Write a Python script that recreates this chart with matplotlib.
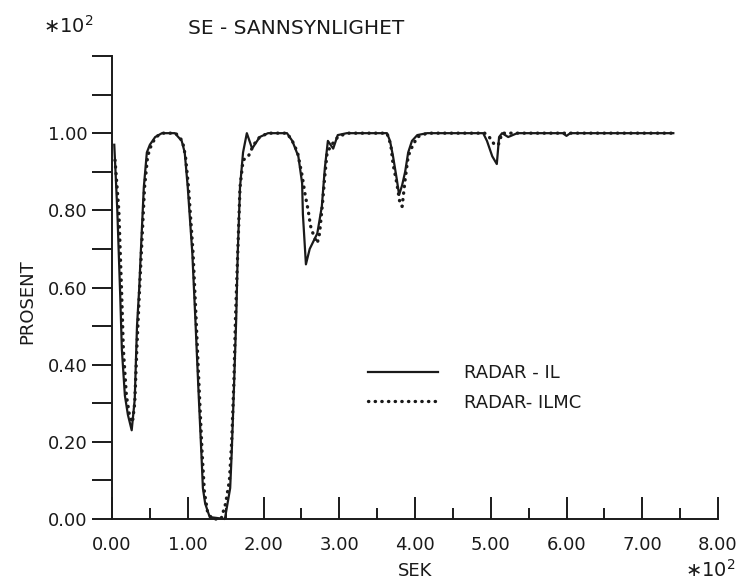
import matplotlib
matplotlib.use("Agg")
import matplotlib.pyplot as plt
from matplotlib.ticker import MultipleLocator, FixedLocator

plt.rcParams['font.family'] = ['DejaVu Sans']

# ---- data (x in units of 10^2 s, y in units of 10^2 %) ----
il_x = [0.03, 0.07, 0.11, 0.13, 0.17, 0.21, 0.26, 0.30, 0.33, 0.36, 0.38, 0.42, 0.46, 0.50,
        0.57, 0.66, 0.83, 0.92, 0.96, 1.00, 1.06, 1.10, 1.14, 1.18, 1.20, 1.23, 1.29, 1.49,
        1.56, 1.58, 1.61, 1.64, 1.66, 1.69, 1.73, 1.78, 1.85, 1.95, 2.06, 2.31, 2.38, 2.46,
        2.51, 2.52, 2.56, 2.61, 2.71, 2.77, 2.81, 2.85, 2.92, 2.98, 3.10, 3.63, 3.67, 3.71,
        3.76, 3.79, 3.83, 3.87, 3.91, 3.96, 4.03, 4.16, 4.90, 4.95, 5.02, 5.08, 5.11, 5.15,
        5.23, 5.35, 5.95, 6.00, 6.05, 7.41]
il_y = [0.97, 0.80, 0.57, 0.44, 0.32, 0.27, 0.23, 0.31, 0.50, 0.60, 0.69, 0.86, 0.95, 0.97,
        0.99, 1.00, 1.00, 0.98, 0.95, 0.86, 0.69, 0.52, 0.34, 0.17, 0.08, 0.04, 0.005, 0.0,
        0.08, 0.17, 0.34, 0.52, 0.69, 0.86, 0.95, 1.00, 0.96, 0.99, 1.00, 1.00, 0.98, 0.94,
        0.87, 0.79, 0.66, 0.70, 0.74, 0.81, 0.91, 0.98, 0.96, 0.995, 1.00, 1.00, 0.98, 0.94,
        0.88, 0.84, 0.865, 0.90, 0.95, 0.98, 0.995, 1.00, 1.00, 0.98, 0.94, 0.92, 0.99, 1.00,
        0.99, 1.00, 1.00, 0.993, 1.00, 1.00]

ilmc_x = [0.04, 0.09, 0.13, 0.15, 0.19, 0.23, 0.27, 0.30, 0.33, 0.36, 0.39, 0.43, 0.47, 0.52,
          0.58, 0.66, 0.84, 0.93, 0.97, 1.01, 1.07, 1.11, 1.15, 1.19, 1.22, 1.26, 1.32, 1.44,
          1.50, 1.55, 1.58, 1.61, 1.63, 1.66, 1.69, 1.73, 1.80, 1.87, 1.95, 2.06, 2.31, 2.38,
          2.45, 2.51, 2.55, 2.59, 2.62, 2.67, 2.71, 2.74, 2.78, 2.81, 2.84, 2.90, 2.98, 3.10,
          3.63, 3.68, 3.71, 3.76, 3.80, 3.83, 3.87, 3.91, 3.95, 4.03, 4.16, 4.92, 4.98, 5.05,
          5.10, 5.15, 7.41]
ilmc_y = [0.93, 0.80, 0.57, 0.44, 0.32, 0.27, 0.25, 0.30, 0.45, 0.58, 0.70, 0.86, 0.94, 0.97,
          0.99, 1.00, 1.00, 0.98, 0.94, 0.86, 0.69, 0.52, 0.34, 0.17, 0.07, 0.02, 0.0, 0.0,
          0.04, 0.10, 0.20, 0.36, 0.52, 0.69, 0.86, 0.93, 0.94, 0.97, 0.99, 1.00, 1.00, 0.98,
          0.95, 0.89, 0.84, 0.80, 0.76, 0.73, 0.715, 0.74, 0.82, 0.89, 0.95, 0.97, 0.99, 1.00,
          1.00, 0.97, 0.92, 0.87, 0.82, 0.81, 0.88, 0.94, 0.96, 0.99, 1.00, 1.00, 0.99, 0.97,
          0.97, 1.00, 1.00]

x_major = [0, 1, 2, 3, 4, 5, 6, 7, 8]
x_labels = ['0.00', '1.00', '2.00', '3.00', '4.00', '5.00', '6.00', '7.00', '8.00']
y_major = [0.0, 0.2, 0.4, 0.6, 0.8, 1.0, 1.2]
y_labels = ['0.00', '0.20', '0.40', '0.60', '0.80', '1.00', '']

FS = 13
INK = '#1a1a1a'
W, H = 738, 582
fig = plt.figure(figsize=(W / 100, H / 100), dpi=100)
ax = fig.add_axes([112 / W, 1 - 519 / H, (718 - 112) / W, (519 - 56) / H])

ax.plot(il_x, il_y, color=INK, lw=1.6, label='RADAR - IL', clip_on=False)
ax.plot(ilmc_x, ilmc_y, color=INK, lw=2.4, linestyle=(0, (0.1, 1.9)),
        dash_capstyle='round', label='RADAR- ILMC', clip_on=False)

ax.set_xlim(0, 8)
ax.set_ylim(0, 1.2)
for s in ['top', 'right']:
    ax.spines[s].set_visible(False)
for s in ['left', 'bottom']:
    ax.spines[s].set_linewidth(1.4)
    ax.spines[s].set_color(INK)

ax.xaxis.set_major_locator(FixedLocator(x_major))
ax.set_xticklabels(x_labels)
ax.xaxis.set_minor_locator(MultipleLocator(0.5))
ax.yaxis.set_major_locator(FixedLocator(y_major))
ax.set_yticklabels(y_labels)
ax.yaxis.set_minor_locator(MultipleLocator(0.1))

ax.tick_params(axis='x', which='major', direction='in', length=16, width=1.4, pad=12,
               labelsize=FS, color=INK, labelcolor=INK)
ax.tick_params(axis='x', which='minor', direction='in', length=8, width=1.4, color=INK)
ax.tick_params(axis='y', which='both', direction='out', length=14.5, width=1.4, pad=3,
               labelsize=FS, color=INK, labelcolor=INK)

ax.set_xlabel('SEK', fontsize=FS, labelpad=6, color=INK)
ax.set_ylabel('PROSENT', fontsize=FS, color=INK)
ax.yaxis.set_label_coords(-0.125, 0.47)

fig.text(43 / W, 1 - 26 / H, '\u221710$^{2}$', fontsize=14, va='center', ha='left', color=INK)
fig.text(296 / W, 1 - 28 / H, 'SE - SANNSYNLIGHET', fontsize=14.5, va='center', ha='center',
         color=INK)
fig.text(736 / W, 1 - 570 / H, '\u221710$^{2}$', fontsize=14, va='center', ha='right',
         color=INK)

leg = ax.legend(loc='upper left', bbox_to_anchor=(368 / W, 1 - 364 / H),
                bbox_transform=fig.transFigure, frameon=False, fontsize=FS,
                handlelength=3.9, handletextpad=1.4, labelspacing=0.65, borderpad=0,
                borderaxespad=0)
for t in leg.get_texts():
    t.set_color(INK)

fig.savefig('out.png', dpi=100, facecolor='white')
